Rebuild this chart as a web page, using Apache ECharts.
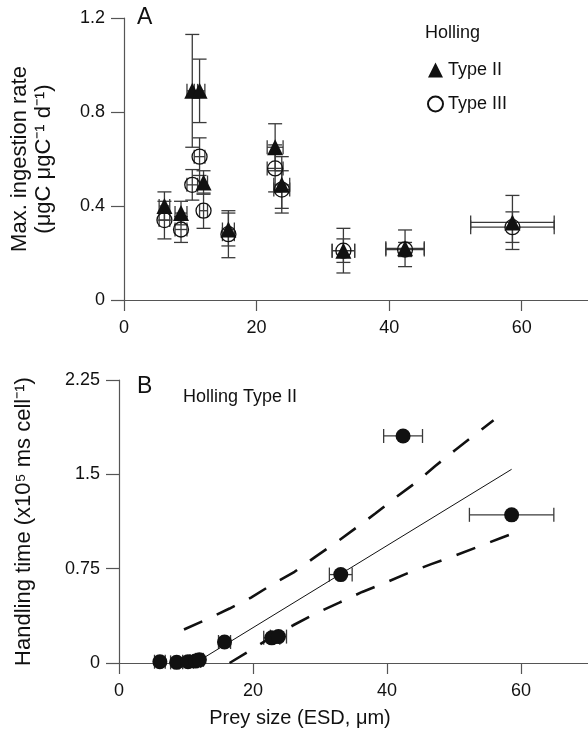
<!DOCTYPE html>
<html>
<head>
<meta charset="utf-8">
<script src="https://cdn.jsdelivr.net/npm/echarts@6/dist/echarts.min.js"></script>
<style>
  html, body { margin: 0; background: #fff; }
  #main { width: 588px; height: 734px; }
</style>
</head>
<body>
<div id="main"></div>
<script>
// prey size (ESD, um) + its error, same prey for both panels
const preySize = [6.1, 8.6, 10.3, 11.4, 12.0, 15.75, 22.8, 23.8, 33.1, 42.4, 58.6]
const preySizeErr = [0.8, 0.9, 0.8, 0.8, 0.6, 0.9, 1.2, 1.2, 1.7, 2.9, 6.3]

// panel A - max ingestion rate
const type2Rate = [0.40, 0.37, 0.89, 0.89, 0.50, 0.30, 0.65, 0.49, 0.21, 0.22, 0.33]
const type2Err = [0.06, 0.05, 0.24, 0.135, 0.05, 0.07, 0.10, 0.12, 0.095, 0.078, 0.115]
const type3Rate = [0.34, 0.30, 0.49, 0.61, 0.38, 0.28, 0.56, 0.47, 0.21, 0.215, 0.31]
const type3Err = [0.08, 0.055, 0.065, 0.08, 0.075, 0.10, 0.10, 0.08, 0.05, 0.03, 0.065]

// panel B - handling time (x10^5)
const handling = [0.01, 0.005, 0.01, 0.015, 0.025, 0.167, 0.20, 0.21, 0.703, 1.805, 1.178]

// regression line and confidence band
const fitX = [12.0, 58.6]
const fitY = [0.02, 1.54]
const upperX = [9.7, 13.0, 16.5, 19.7, 23.1, 26.2, 29.3, 32.2, 35.4, 38.3, 41.4, 44.2, 47.2, 50.1, 53.0, 55.9]
const upperY = [0.266, 0.345, 0.433, 0.52, 0.632, 0.725, 0.844, 0.95, 1.075, 1.19, 1.32, 1.43, 1.566, 1.69, 1.81, 1.93]
const lowerX = [16.5, 19.5, 22.8, 26.0, 29.6, 32.8, 36.3, 39.7, 43.2, 46.6, 50.3, 53.6, 57.2, 58.6]
const lowerY = [0, 0.096, 0.207, 0.30, 0.40, 0.478, 0.565, 0.637, 0.717, 0.786, 0.857, 0.924, 0.998, 1.025]

// tick labels
const xTicks = [0, 20, 40, 60]
const yTicksA = [0, 0.4, 0.8, 1.2]
const yTicksB = [0, 0.75, 1.5, 2.25]

const FONT = '"Liberation Sans", Arial, Helvetica, sans-serif'
const INK = '#111'
const AXIS = '#555'

let chart = echarts.init(document.getElementById('main'))

function zip (xs, ys) {
  return xs.map((x, i) => [x, ys[i]])
}

// [x, y, xerr, yerr]
function errRows (ys, yErr) {
  return preySize.map((x, i) => [x, ys[i], preySizeErr[i], yErr ? yErr[i] : 0])
}

function renderErr (params, api) {
  let x = api.value(0)
  let y = api.value(1)
  let ex = api.value(2)
  let ey = api.value(3)
  let cap = 7
  let segs = []
  if (ex > 0) {
    let l = api.coord([x - ex, y])
    let r = api.coord([x + ex, y])
    segs.push([l[0], l[1], r[0], r[1]])
    segs.push([l[0], l[1] - cap, l[0], l[1] + cap])
    segs.push([r[0], r[1] - cap, r[0], r[1] + cap])
  }
  if (ey > 0) {
    let t = api.coord([x, y + ey])
    let b = api.coord([x, y - ey])
    segs.push([t[0], t[1], b[0], b[1]])
    segs.push([t[0] - cap, t[1], t[0] + cap, t[1]])
    segs.push([b[0] - cap, b[1], b[0] + cap, b[1]])
  }
  return {
    type: 'group',
    children: segs.map(s => ({
      type: 'line',
      shape: { x1: s[0], y1: s[1], x2: s[2], y2: s[3] },
      style: { stroke: '#3a3a3a', lineWidth: 1.3 }
    }))
  }
}

function xAxisOpt (idx, withName) {
  let o = {
    gridIndex: idx,
    type: 'value',
    min: 0,
    max: 70,
    interval: 20,
    splitLine: { show: false },
    axisLine: { lineStyle: { color: AXIS, width: 1.2 } },
    axisTick: { length: 11, lineStyle: { color: AXIS, width: 1.2 }, customValues: xTicks },
    axisLabel: { fontSize: 18, color: INK, fontFamily: FONT, margin: 19, customValues: xTicks }
  }
  if (withName) {
    o.name = 'Prey size (ESD, μm)'
    o.nameLocation = 'middle'
    o.nameGap = 45
    o.nameTextStyle = { fontSize: 20, color: INK, fontFamily: FONT, padding: [0, 107, 0, 0] }
  }
  return o
}

function yAxisOpt (idx, max, interval, ticks, name, gap) {
  return {
    gridIndex: idx,
    type: 'value',
    min: 0,
    max: max,
    interval: interval,
    splitLine: { show: false },
    axisLine: { show: true, lineStyle: { color: AXIS, width: 1.2 } },
    axisTick: { show: true, length: 13, lineStyle: { color: AXIS, width: 1.2 }, customValues: ticks },
    axisLabel: { fontSize: 18, color: INK, fontFamily: FONT, margin: 19, customValues: ticks },
    name: name,
    nameLocation: 'middle',
    nameRotate: 90,
    nameGap: gap,
    nameTextStyle: { fontSize: 22, color: INK, fontFamily: FONT, lineHeight: 24 }
  }
}

let option = {
  backgroundColor: '#fff',
  animation: false,
  textStyle: { fontFamily: FONT },
  grid: [
    { left: 119, top: 18, width: 471, height: 282 },
    { left: 119, top: 380, width: 471, height: 283 }
  ],
  xAxis: [xAxisOpt(0, false), xAxisOpt(1, true)],
  yAxis: [
    yAxisOpt(0, 1.2, 0.4, yTicksA, 'Max. ingestion rate\n(μgC μgC⁻¹ d⁻¹)', 68),
    yAxisOpt(1, 2.25, 0.75, yTicksB, 'Handling time (x10⁵ ms cell⁻¹)', 83)
  ],
  legend: {
    orient: 'vertical',
    left: 422,
    top: 56,
    itemGap: 16,
    itemWidth: 15,
    itemHeight: 15,
    textStyle: { fontSize: 18, color: INK, fontFamily: FONT },
    data: ['Type II', 'Type III']
  },
  graphic: [
    { type: 'text', left: 137, top: 6, style: { text: 'A', fontSize: 23, fill: INK, fontFamily: FONT } },
    { type: 'text', left: 425, top: 24, style: { text: 'Holling', fontSize: 18, fill: INK, fontFamily: FONT } },
    { type: 'text', left: 137, top: 375, style: { text: 'B', fontSize: 23, fill: INK, fontFamily: FONT } },
    { type: 'text', left: 183, top: 388, style: { text: 'Holling Type II', fontSize: 18, fill: INK, fontFamily: FONT } }
  ],
  series: [
    {
      name: 'errA3',
      type: 'custom',
      xAxisIndex: 0,
      yAxisIndex: 0,
      renderItem: renderErr,
      encode: { x: 0, y: 1 },
      data: errRows(type3Rate, type3Err),
      z: 1
    },
    {
      name: 'errA2',
      type: 'custom',
      xAxisIndex: 0,
      yAxisIndex: 0,
      renderItem: renderErr,
      encode: { x: 0, y: 1 },
      data: errRows(type2Rate, type2Err),
      z: 1
    },
    {
      name: 'Type III',
      type: 'scatter',
      xAxisIndex: 0,
      yAxisIndex: 0,
      symbol: 'circle',
      symbolSize: 15,
      itemStyle: { color: 'rgba(255,255,255,0)', borderColor: INK, borderWidth: 1.3, opacity: 1 },
      data: zip(preySize, type3Rate),
      z: 3
    },
    {
      name: 'Type II',
      type: 'scatter',
      xAxisIndex: 0,
      yAxisIndex: 0,
      symbol: 'triangle',
      symbolSize: 16,
      itemStyle: { color: INK, opacity: 1 },
      data: zip(preySize, type2Rate),
      z: 4
    },
    {
      name: 'errB',
      type: 'custom',
      xAxisIndex: 1,
      yAxisIndex: 1,
      renderItem: renderErr,
      encode: { x: 0, y: 1 },
      data: errRows(handling, null),
      z: 1
    },
    {
      name: 'fit',
      type: 'line',
      xAxisIndex: 1,
      yAxisIndex: 1,
      showSymbol: false,
      lineStyle: { color: INK, width: 1 },
      data: zip(fitX, fitY),
      z: 2
    },
    {
      name: 'upper',
      type: 'line',
      xAxisIndex: 1,
      yAxisIndex: 1,
      showSymbol: false,
      lineStyle: { color: INK, width: 2.6, type: [20, 16] },
      data: zip(upperX, upperY),
      z: 2
    },
    {
      name: 'lower',
      type: 'line',
      xAxisIndex: 1,
      yAxisIndex: 1,
      showSymbol: false,
      lineStyle: { color: INK, width: 2.6, type: [20, 16] },
      data: zip(lowerX, lowerY),
      z: 2
    },
    {
      name: 'handling',
      type: 'scatter',
      xAxisIndex: 1,
      yAxisIndex: 1,
      symbol: 'circle',
      symbolSize: 15,
      itemStyle: { color: INK, opacity: 1 },
      data: zip(preySize, handling),
      z: 4
    }
  ]
}

chart.setOption(option)
</script>
</body>
</html>
